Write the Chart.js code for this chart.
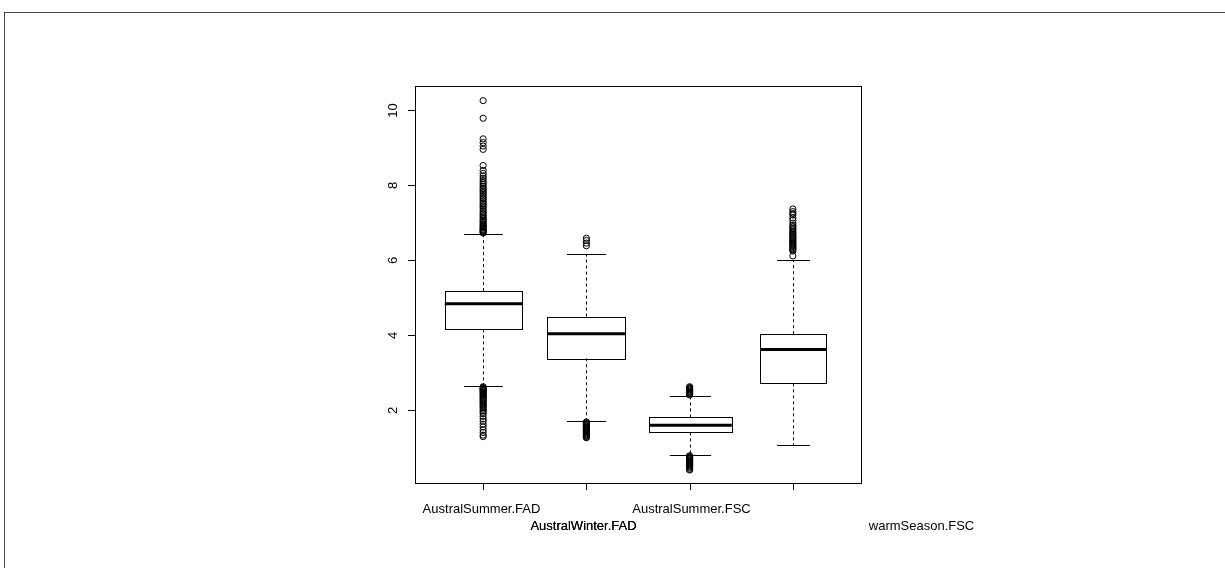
<!DOCTYPE html>
<html>
<head>
<meta charset="utf-8">
<script src="https://cdn.jsdelivr.net/npm/chart.js@4"></script>
<style>
  body { margin: 0; background: #fff; }
  #frame { position: absolute; left: 4px; top: 12px; width: 1240px; height: 600px;
           border-top: 1px solid #444; border-left: 1px solid #444; }
  #box-plot { position: absolute; left: 0; top: 0; }
</style>
</head>
<body>
<div id="frame"></div>
<canvas id="box-plot" width="1225" height="568"></canvas>
<script>
// categories and five-number summaries
var categories = ['AustralSummer.FAD', 'AustralWinter.FAD', 'AustralSummer.FSC', 'warmSeason.FSC'];
var lowerWhisker = [2.64, 1.70, 0.80, 1.06];
var q1Values     = [4.15, 3.38, 1.40, 2.71];
var medians      = [4.83, 4.03, 1.59, 3.61];
var q3Values     = [5.17, 4.49, 1.80, 4.02];
var upperWhisker = [6.70, 6.15, 2.37, 5.99];
var boxWidths    = [0.75, 0.76, 0.80, 0.64];
var yTicks = [2, 4, 6, 8, 10];

// outliers per category
var outliers1 = [6.72,6.74,6.76,6.78,6.80,6.82,6.85,6.88,6.90,6.93,6.96,7.00,7.03,7.06,7.10,7.14,7.18,7.22,
    7.26,7.30,7.35,7.40,7.44,7.48,7.52,7.57,7.62,7.66,7.70,7.75,7.80,7.84,7.88,7.92,7.97,8.02,8.07,8.12,
    8.18,8.24,8.31,8.39,8.52,8.95,9.04,9.13,9.23,9.78,10.25,
    2.62,2.60,2.58,2.56,2.54,2.52,2.50,2.47,2.45,2.42,2.40,2.37,2.34,2.31,2.28,2.25,2.22,2.19,2.16,2.13,
    2.10,2.06,2.02,1.98,1.94,1.90,1.83,1.76,1.70,1.62,1.55,1.47,1.40,1.33,1.29];
var outliers2 = [6.38,6.45,6.52,6.58,
    1.68,1.66,1.64,1.62,1.60,1.58,1.56,1.54,1.52,1.50,1.48,1.46,1.44,1.42,1.40,1.38,1.36,1.34,1.32,1.30,1.28,1.26];
var outliers3 = [2.40,2.42,2.44,2.46,2.48,2.50,2.52,2.54,2.56,2.58,2.60,2.62,
    0.78,0.76,0.74,0.72,0.70,0.68,0.66,0.64,0.62,0.60,0.58,0.56,0.54,0.52,0.50,0.48,0.45,0.42,0.40];
var outliers4 = [6.11,6.24,6.27,6.30,6.33,6.36,6.39,6.42,6.45,6.48,6.51,6.54,6.57,6.60,6.63,6.66,6.69,6.72,
    6.76,6.80,6.84,6.88,6.92,6.98,7.06,7.12,7.20,7.24,7.29,7.36];
var allOutliers = [outliers1, outliers2, outliers3, outliers4];

// label placement (R staggered the names on two lines)
var labelRow = [0, 1, 0, 1];
var labelShift = [-2, -3, 1, 128];

var outlierPoints = [];
for (let i = 0; i < allOutliers.length; i++) {
    for (let j = 0; j < allOutliers[i].length; j++) {
        outlierPoints.push({x: i + 1, y: allOutliers[i][j]});
    }
}

var FONT = '13px "Liberation Sans", Arial, sans-serif';

var boxPlotPlugin = {
    id: 'boxPlot',
    beforeDatasetsDraw: function(chart) {
        var ctx = chart.ctx;
        var xs = chart.scales.x, ys = chart.scales.y;
        var area = chart.chartArea;
        ctx.save();
        ctx.strokeStyle = '#000';
        ctx.lineWidth = 1;

        // plot frame
        ctx.strokeRect(Math.round(area.left) + 0.5, Math.round(area.top) + 0.5,
            Math.round(area.right - area.left), Math.round(area.bottom - area.top));

        // y axis ticks + rotated labels
        ctx.font = FONT;
        ctx.fillStyle = '#000';
        ctx.textAlign = 'center';
        ctx.textBaseline = 'middle';
        yTicks.forEach(function(t) {
            var py = Math.round(ys.getPixelForValue(t)) + 0.5;
            ctx.beginPath();
            ctx.moveTo(area.left, py);
            ctx.lineTo(area.left - 7, py);
            ctx.stroke();
            ctx.save();
            ctx.translate(area.left - 22, py);
            ctx.rotate(-Math.PI / 2);
            ctx.fillText(String(t), 0, 0);
            ctx.restore();
        });

        // x axis ticks + category names
        categories.forEach(function(name, i) {
            var px = Math.round(xs.getPixelForValue(i + 1)) + 0.5;
            ctx.beginPath();
            ctx.moveTo(px, area.bottom);
            ctx.lineTo(px, area.bottom + 7);
            ctx.stroke();
            var ly = area.bottom + 26 + labelRow[i] * 17;
            ctx.fillText(name, px + labelShift[i], ly);
            // the second name looks overprinted (darker) in the original
            if (i === 1) ctx.fillText(name, px + labelShift[i], ly);
        });

        // boxes, medians, whiskers
        for (let i = 0; i < categories.length; i++) {
            var cx = Math.round(xs.getPixelForValue(i + 1)) + 0.5;
            var half = (xs.getPixelForValue(1 + boxWidths[i] / 2) - xs.getPixelForValue(1));
            var yQ1 = ys.getPixelForValue(q1Values[i]);
            var yQ3 = ys.getPixelForValue(q3Values[i]);
            var yMed = ys.getPixelForValue(medians[i]);
            var yLo = ys.getPixelForValue(lowerWhisker[i]);
            var yHi = ys.getPixelForValue(upperWhisker[i]);

            // dashed whiskers
            ctx.setLineDash([3, 3]);
            ctx.beginPath();
            ctx.moveTo(cx, yQ3); ctx.lineTo(cx, yHi);
            ctx.moveTo(cx, yQ1); ctx.lineTo(cx, yLo);
            ctx.stroke();
            ctx.setLineDash([]);

            // caps
            ctx.beginPath();
            ctx.moveTo(cx - half / 2, Math.round(yHi) + 0.5); ctx.lineTo(cx + half / 2, Math.round(yHi) + 0.5);
            ctx.moveTo(cx - half / 2, Math.round(yLo) + 0.5); ctx.lineTo(cx + half / 2, Math.round(yLo) + 0.5);
            ctx.stroke();

            // box
            ctx.fillStyle = '#fff';
            ctx.fillRect(cx - half, yQ3, half * 2, yQ1 - yQ3);
            ctx.strokeRect(Math.round(cx - half) + 0.5, Math.round(yQ3) + 0.5,
                Math.round(half * 2), Math.round(yQ1 - yQ3));

            // median
            ctx.lineWidth = 3;
            ctx.beginPath();
            ctx.moveTo(cx - half, yMed); ctx.lineTo(cx + half, yMed);
            ctx.stroke();
            ctx.lineWidth = 1;
        }
        ctx.restore();
    }
};

var ctx = document.getElementById('box-plot').getContext('2d');

new Chart(ctx, {
    type: 'scatter',
    data: {
        datasets: [{
            label: 'outliers',
            data: outlierPoints,
            pointStyle: 'circle',
            pointRadius: 3.1,
            pointBorderWidth: 1,
            borderColor: '#000',
            backgroundColor: 'rgba(0,0,0,0)'
        }]
    },
    options: {
        responsive: false,
        animation: false,
        layout: { padding: { left: 415, top: 86, right: 364, bottom: 85 } },
        plugins: { legend: { display: false }, tooltip: { enabled: false } },
        scales: {
            x: { type: 'linear', min: 0.34, max: 4.66, display: false },
            y: { type: 'linear', min: 0.053, max: 10.64, display: false }
        }
    },
    plugins: [boxPlotPlugin]
});
</script>
</body>
</html>
